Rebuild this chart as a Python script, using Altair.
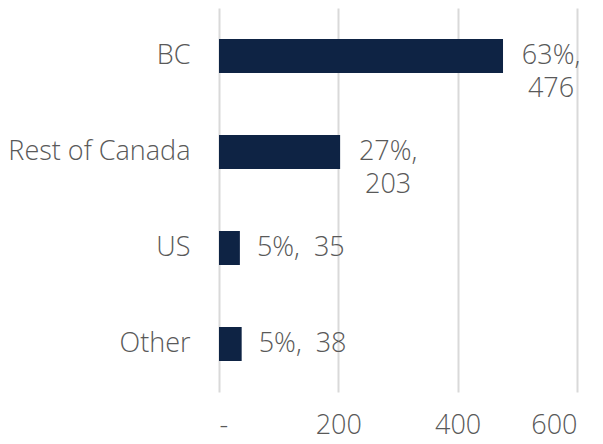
import altair as alt
import pandas as pd

categories = ["BC", "Rest of Canada", "US", "Other"]
values = [476, 203, 35, 38]
percents = ["63%", "27%", "5%", "5%"]
wrapped = [True, True, False, False]

labels = []
for p, v, w in zip(percents, values, wrapped):
    labels.append(f"{p},\n{v}" if w else f"{p},\u00a0 {v}")

df = pd.DataFrame({"cat": categories, "value": values, "label": labels, "wrap": wrapped})

FONT = "Open Sans"
GRAY = "#595959"
NAVY = "#0e2344"
FS = 27

y_enc = alt.Y("cat:N", sort=categories, title=None,
              scale=alt.Scale(paddingInner=0.646, paddingOuter=0.323),
              axis=alt.Axis(domain=False, ticks=False, labelPadding=29, labelFontSize=FS,
                            labelColor=GRAY, labelFont=FONT, labelFontWeight=300, grid=False,
                            labelLimit=300))
x_enc = alt.X("value:Q", title=None,
              scale=alt.Scale(domain=[0, 600], nice=False),
              axis=alt.Axis(values=[0, 200, 400, 600], domain=False, ticks=False,
                            labelPadding=20, labelFontSize=FS, labelColor=GRAY, labelFont=FONT,
                            labelFontWeight=300,
                            grid=True, gridColor="#d9d9d9", gridWidth=2,
                            labelExpr="datum.value == 0 ? '-' : datum.label"))

base = alt.Chart(df)
bars = base.mark_bar(color=NAVY).encode(x=x_enc, y=y_enc)

txt_wrap = base.transform_filter("datum.wrap").mark_text(
    align="center", baseline="middle", dx=48, fontSize=FS, font=FONT, fontWeight=300, color=GRAY,
    lineBreak="\n", lineHeight=33
).encode(x="value:Q", y=alt.Y("cat:N", sort=categories), text="label:N")

txt_single = base.transform_filter("!datum.wrap").mark_text(
    align="left", baseline="middle", dx=17, fontSize=FS, font=FONT, fontWeight=300, color=GRAY
).encode(x="value:Q", y=alt.Y("cat:N", sort=categories), text="label:N")

chart = alt.layer(bars, txt_wrap, txt_single).properties(
    width=358, height=384,
    autosize=alt.AutoSizeParams(type="none"),
    padding={"left": 211, "top": 0, "right": 18, "bottom": 50},
).configure_view(stroke=None)

chart.save("out.html", embed_options={"renderer": "svg", "actions": False})
